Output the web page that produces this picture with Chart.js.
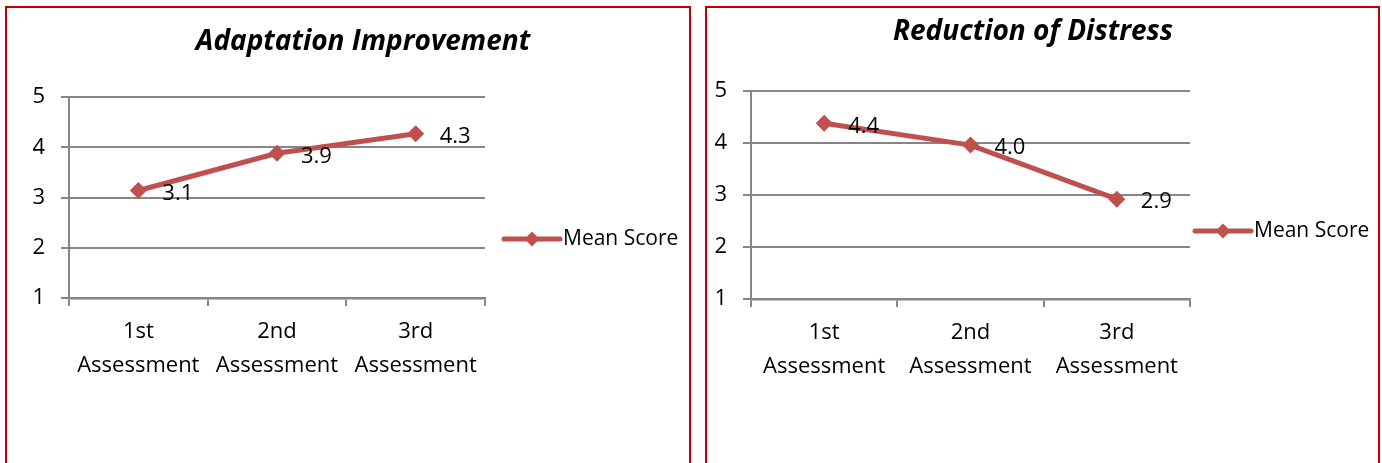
<!DOCTYPE html>
<html>
<head>
<meta charset="utf-8">
<script src="https://cdn.jsdelivr.net/npm/chart.js@4/dist/chart.umd.min.js"></script>
<style>
  html, body { margin: 0; padding: 0; background: #fff; overflow: hidden; }
  .panel { position: absolute; top: 6px; height: 480px; border: 2px solid #c00000; box-sizing: border-box; background: #fff; }
  #p1 { left: 5px; width: 686px; }
  #p2 { left: 705px; width: 675px; }
  canvas { display: block; }
</style>
</head>
<body>
<div class="panel" id="p1"><canvas id="chart1" width="682" height="455"></canvas></div>
<div class="panel" id="p2"><canvas id="chart2" width="671" height="455"></canvas></div>
<script>
// ---- data ----
const categories = [['1st', 'Assessment'], ['2nd', 'Assessment'], ['3rd', 'Assessment']];
const adaptationScores = [3.14, 3.88, 4.27];
const distressScores = [4.38, 3.96, 2.92];
const seriesLabel = 'Mean Score';
const yTicks = [1, 2, 3, 4, 5];
const titles = ['Adaptation Improvement', 'Reduction of Distress'];

const RED = '#c0504d';
const GRID = '#868686';
const FONT = "'Open Sans', 'DejaVu Sans', sans-serif";

// title, legend and value labels drawn onto the canvas
const decor = {
  id: 'decor',
  afterDatasetsDraw(chart, args, opts) {
    const ctx = chart.ctx;
    const ca = chart.chartArea;
    ctx.save();
    // title
    ctx.fillStyle = '#000';
    ctx.font = 'italic bold 28px ' + FONT;
    ctx.textAlign = 'center';
    ctx.textBaseline = 'middle';
    ctx.fillText(opts.title, opts.titleX, opts.titleY);

    // value labels
    const ds = chart.data.datasets[0];
    const meta = chart.getDatasetMeta(0);
    ctx.font = '22px ' + FONT;
    ctx.textAlign = 'left';
    meta.data.forEach((pt, i) => {
      ctx.fillText(ds.data[i].toFixed(1), pt.x + 24, pt.y + 3);
    });

    // legend
    const lx = ca.right + opts.legendGap;
    const ly = opts.legendY;
    ctx.strokeStyle = RED;
    ctx.lineWidth = 5;
    ctx.lineCap = 'round';
    ctx.beginPath();
    ctx.moveTo(lx, ly);
    ctx.lineTo(lx + 56, ly);
    ctx.stroke();
    ctx.fillStyle = RED;
    ctx.beginPath();
    ctx.moveTo(lx + 28, ly - 7.5);
    ctx.lineTo(lx + 35.5, ly);
    ctx.lineTo(lx + 28, ly + 7.5);
    ctx.lineTo(lx + 20.5, ly);
    ctx.closePath();
    ctx.fill();
    ctx.fillStyle = '#000';
    ctx.font = '21px ' + FONT;
    ctx.textBaseline = 'middle';
    ctx.fillText(ds.label, lx + 59, ly);
    ctx.restore();
  }
};

function makeChart(id, title, values, L) {
  return new Chart(document.getElementById(id), {
    type: 'line',
    data: {
      labels: categories,
      datasets: [{
        label: seriesLabel,
        data: values,
        borderColor: RED,
        backgroundColor: RED,
        borderWidth: 5,
        pointStyle: 'rectRot',
        pointRadius: 8.5,
        pointHoverRadius: 8.5,
        pointBorderWidth: 0,
        tension: 0
      }]
    },
    plugins: [decor],
    options: {
      responsive: false,
      animation: false,
      events: [],
      layout: { padding: { top: L.top, right: L.right, left: 0, bottom: 0 } },
      plugins: {
        legend: { display: false },
        title: { display: false },
        tooltip: { enabled: false },
        decor: { title: title, titleX: L.titleX, titleY: L.titleY, legendGap: L.legendGap, legendY: L.legendY }
      },
      scales: {
        x: {
          offset: true,
          afterFit: s => { s.height = L.xHeight; },
          grid: { offset: true, drawOnChartArea: false, drawTicks: true, tickLength: 8, color: GRID, lineWidth: 2 },
          border: { color: GRID, width: 2.5 },
          ticks: { color: '#000', font: { family: FONT, size: 22, lineHeight: 1.55 }, padding: 9, maxRotation: 0, autoSkip: false }
        },
        y: {
          min: yTicks[0],
          max: yTicks[yTicks.length - 1],
          afterFit: s => { s.width = L.yWidth; },
          grid: { color: GRID, lineWidth: 2, tickLength: 8 },
          border: { color: GRID, width: 2 },
          ticks: { stepSize: 1, color: '#000', font: { family: FONT, size: 22 }, padding: 16 }
        }
      }
    }
  });
}

makeChart('chart1', titles[0], adaptationScores,
  { top: 89, right: 204, xHeight: 165, yWidth: 62, titleX: 356, titleY: 34, legendGap: 19, legendY: 231 });
makeChart('chart2', titles[1], distressScores,
  { top: 83, right: 188, xHeight: 164, yWidth: 44, titleX: 326, titleY: 24, legendGap: 5, legendY: 223 });
</script>
</body>
</html>
